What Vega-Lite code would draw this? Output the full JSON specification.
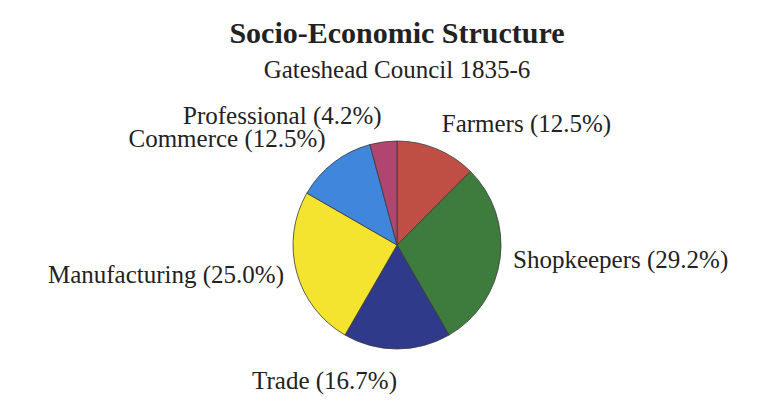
{
  "$schema": "https://vega.github.io/schema/vega-lite/v6.json",
  "width": 208,
  "height": 208,
  "autosize": {"type": "none"},
  "padding": {"left": 293, "top": 141, "right": 269, "bottom": 62},
  "background": "white",
  "title": {
    "text": "Socio-Economic Structure",
    "subtitle": "Gateshead Council 1835-6",
    "anchor": "middle",
    "font": "Liberation Serif",
    "fontSize": 30,
    "fontWeight": "bold",
    "color": "#222222",
    "subtitleFont": "Liberation Serif",
    "subtitleFontSize": 25,
    "subtitleColor": "#222222",
    "subtitlePadding": 9,
    "offset": 21
  },
  "data": {
    "values": [
      {"category": "Farmers", "share": 12.5},
      {"category": "Shopkeepers", "share": 29.2},
      {"category": "Trade", "share": 16.7},
      {"category": "Manufacturing", "share": 25.0},
      {"category": "Commerce", "share": 12.5},
      {"category": "Professional", "share": 4.2}
    ]
  },
  "transform": [
    {"window": [{"op": "row_number", "as": "i"}]},
    {"calculate": "datum.category + ' (' + format(datum.share, '.1f') + '%)'", "as": "label"}
  ],
  "encoding": {
    "theta": {"field": "share", "type": "quantitative", "stack": true},
    "order": {"field": "i", "type": "quantitative"}
  },
  "layer": [
    {
      "mark": {"type": "arc", "stroke": "#3a3a3a", "strokeWidth": 0.8},
      "encoding": {
        "color": {
          "field": "category",
          "type": "nominal",
          "scale": {
            "domain": ["Farmers", "Shopkeepers", "Trade", "Manufacturing", "Commerce", "Professional"],
            "range": ["#bf4f45", "#3d7c3d", "#2f3a8a", "#f4e430", "#3f86dc", "#b0466f"]
          },
          "legend": null
        }
      }
    },
    {
      "mark": {
        "type": "text",
        "font": "Liberation Serif",
        "fontSize": 25,
        "color": "#222222",
        "radius": {"expr": "datum.category === 'Trade' ? 124 : 117"},
        "align": {"expr": "datum.category === 'Farmers' || datum.category === 'Shopkeepers' ? 'left' : 'right'"},
        "baseline": {"expr": "datum.category === 'Trade' ? 'top' : (datum.category === 'Shopkeepers' || datum.category === 'Manufacturing') ? 'middle' : 'bottom'"}
      },
      "encoding": {"text": {"field": "label", "type": "nominal"}}
    }
  ],
  "config": {"view": {"stroke": null}}
}
